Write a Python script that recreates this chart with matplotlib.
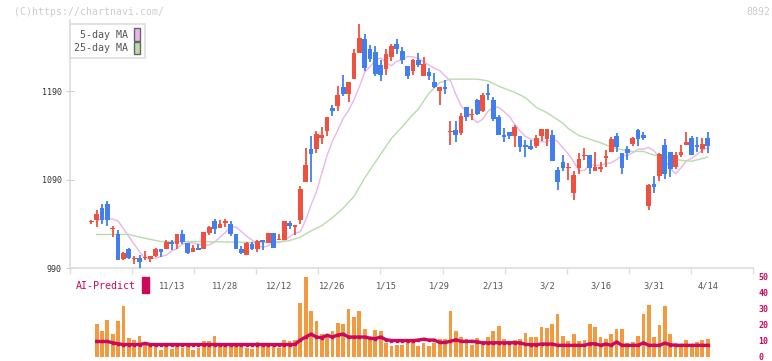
import numpy as np
import pandas as pd
import matplotlib
matplotlib.use("Agg")
import matplotlib.pyplot as plt
from matplotlib.patches import Patch

# price candles (one per trading day, oldest first)
opens = [1042, 1044, 1058, 1063, 1034, 1029, 1000, 1011, 1000, 1001,
         1001, 1000, 1004, 1012, 1012, 1020, 1017, 1028, 1018, 1008,
         1013, 1011, 1030, 1043, 1035, 1041, 1040, 1028, 1012, 1005,
         1017, 1011, 1022, 1018, 1030, 1022, 1022, 1041, 1037, 1044,
         1087, 1125, 1125, 1137, 1145, 1171, 1174, 1195, 1187, 1204,
         1234, 1250, 1238, 1235, 1220, 1215, 1229, 1244, 1236, 1219,
         1213, 1226, 1207, 1212, 1201, 1190, 1195, 1144, 1146, 1143,
         1172, 1163, 1180, 1168, 1188, 1180, 1161, 1141, 1144, 1139,
         1139, 1129, 1128, 1128, 1139, 1136, 1141, 1101, 1110, 1103,
         1075, 1103, 1117, 1118, 1100, 1102, 1115, 1122, 1139, 1120,
         1125, 1131, 1146, 1141, 1060, 1085, 1094, 1129, 1121, 1104,
         1118, 1129, 1137, 1129, 1125, 1137]
highs = [1044, 1056, 1063, 1066, 1038, 1033, 1008, 1013, 1004, 1005,
         1009, 1004, 1013, 1012, 1022, 1022, 1028, 1033, 1018, 1016,
         1017, 1031, 1038, 1045, 1044, 1045, 1043, 1028, 1015, 1020,
         1019, 1022, 1022, 1030, 1030, 1028, 1043, 1043, 1039, 1083,
         1126, 1140, 1145, 1150, 1161, 1175, 1196, 1209, 1201, 1238,
         1267, 1255, 1243, 1242, 1226, 1238, 1244, 1250, 1240, 1219,
         1227, 1234, 1229, 1217, 1211, 1195, 1203, 1157, 1156, 1166,
         1172, 1170, 1182, 1188, 1198, 1184, 1163, 1149, 1144, 1152,
         1139, 1135, 1135, 1141, 1148, 1148, 1146, 1104, 1118, 1109,
         1100, 1120, 1126, 1118, 1121, 1110, 1124, 1138, 1143, 1120,
         1128, 1138, 1147, 1144, 1085, 1094, 1120, 1136, 1121, 1122,
         1129, 1144, 1139, 1138, 1137, 1144]
lows = [1040, 1037, 1040, 1038, 1025, 999, 999, 1000, 995, 989,
        999, 997, 1003, 1003, 1011, 1010, 1012, 1017, 1006, 1008,
        1010, 1011, 1027, 1028, 1035, 1037, 1026, 1011, 1006, 1005,
        1010, 1008, 1010, 1018, 1013, 1022, 1022, 1034, 1027, 1040,
        1087, 1087, 1120, 1131, 1140, 1162, 1168, 1185, 1178, 1204,
        1234, 1213, 1223, 1207, 1202, 1209, 1224, 1233, 1221, 1204,
        1209, 1218, 1207, 1203, 1194, 1175, 1187, 1129, 1133, 1141,
        1156, 1158, 1163, 1167, 1180, 1156, 1141, 1133, 1136, 1127,
        1122, 1116, 1124, 1126, 1134, 1128, 1111, 1078, 1100, 1090,
        1067, 1096, 1112, 1096, 1100, 1099, 1105, 1121, 1121, 1097,
        1112, 1128, 1128, 1135, 1056, 1075, 1089, 1091, 1093, 1102,
        1116, 1129, 1118, 1121, 1120, 1120]
closes = [1042.5, 1051, 1044, 1044, 1034.5, 999, 1007, 1001, 1001, 997,
          1002, 1004, 1012, 1008, 1020, 1017, 1028, 1020, 1007, 1013,
          1010, 1031, 1036, 1034, 1040, 1043, 1029, 1011, 1007, 1018,
          1011, 1021, 1019, 1030, 1013, 1023, 1043, 1038, 1039, 1079,
          1107, 1119, 1142, 1141, 1161, 1168, 1186, 1187, 1201, 1234,
          1251, 1217, 1227, 1210, 1209, 1233, 1242, 1238, 1226, 1207,
          1226, 1220, 1221, 1207, 1195, 1195, 1193, 1145, 1141, 1162,
          1161, 1165, 1164, 1186, 1186, 1159, 1141, 1138, 1139, 1150,
          1127, 1127, 1125, 1137, 1147, 1147, 1111, 1088, 1103, 1104,
          1095, 1113, 1118, 1103, 1104, 1104, 1117, 1136, 1127, 1103,
          1120, 1137, 1136, 1137, 1084, 1082, 1119, 1096, 1102, 1118,
          1122, 1133, 1118, 1127, 1131, 1128]

# 25-day moving average (candle index, value)
ma25_idx = [1, 7, 9, 13, 20, 30, 35, 37, 39, 41, 43, 45, 47, 49, 51, 52,
            54, 56, 58, 60, 61, 63, 65, 67, 72, 74, 76, 79, 81, 83, 85,
            88, 89, 91, 93, 95, 97, 99, 101, 103, 105, 108, 110, 112, 114, 115]
ma25_val = [1028, 1028, 1025, 1020, 1020, 1019, 1019.5, 1021, 1025, 1032,
            1038, 1047, 1058, 1071, 1092, 1101, 1119, 1137, 1150, 1164,
            1170, 1188, 1200, 1204, 1204, 1202, 1196, 1189, 1183, 1172,
            1166, 1154, 1148, 1140, 1136, 1132, 1127, 1124, 1122, 1122,
            1118, 1115, 1112, 1111, 1114, 1116]

# lower panel: volume bars and AI-Predict line (from 2nd candle on)
volume = [20.6, 16.2, 23.1, 14.3, 22.5, 31.3, 11.8, 10.5, 13, 7.4,
          8.6, 6.5, 4.2, 6.5, 4.4, 7.4, 5.5, 7.4, 4.2, 5.5,
          9.9, 9.9, 13, 7.4, 6.5, 6.5, 7.4, 6.5, 5.5, 5,
          9.2, 7.4, 8.6, 7.4, 5.5, 10.5, 9.4, 10.5, 33.3, 49.5,
          28.7, 22, 14.3, 13.3, 15.8, 21.2, 20.6, 30, 24.9, 28.7,
          17.4, 11.2, 16.6, 15.8, 8.6, 6.7, 7, 7, 9.3, 9.3,
          6.7, 8.6, 6.7, 8.6, 10.8, 11, 28.7, 15.8, 12.4, 11,
          7.4, 11.6, 9.3, 12.4, 16.2, 19.3, 11, 8.6, 10.5, 11.2,
          14.9, 12.4, 12.4, 18.7, 17.9, 20.6, 26.7, 13, 9.9, 14.3,
          9.9, 10.5, 20.6, 18.7, 12.4, 11.2, 13.8, 16.9, 16.9, 8.6,
          9.3, 13, 26.7, 32.5, 12.4, 19.9, 31.3, 14.3, 8.6, 7.4,
          10.5, 7.4, 9.3, 10.5, 11.2]
ai_predict = [9.4, 9.4, 9.4, 8.6, 8.0, 7.5, 7.5, 7.5, 7.5, 8.2,
              7.5, 7.5, 7.5, 7.5, 7.5, 7.5, 7.5, 7.5, 7.5, 7.5,
              7.5, 7.5, 7.5, 7.5, 7.5, 7.5, 7.5, 7.5, 7.5, 7.5,
              7.5, 7.5, 7.5, 7.5, 7.5, 7.5, 7.5, 7.6, 10.3, 12.2,
              14, 12.2, 11.8, 13.3, 12.2, 13.5, 14, 12.2, 12.2, 12.2,
              12.2, 11.5, 11.2, 12.2, 10.5, 10, 10, 10, 10, 10,
              10.3, 10.8, 10.3, 10.3, 8.8, 8.8, 9.5, 10.5, 9.5, 9.5,
              9.5, 9.2, 8.6, 8.6, 8.6, 8.6, 8.6, 8.6, 8.6, 8.6,
              7.6, 7.4, 7.4, 7.8, 7.8, 7.8, 7.0, 7.0, 7.0, 7.0,
              7.0, 7.0, 8.0, 8.0, 7.0, 7.8, 7.0, 9.1, 7.0, 7.0,
              7.0, 7.0, 8.6, 7.0, 7.0, 7.0, 8.4, 7.4, 7.0, 7.0,
              7.0, 7.0, 7.0, 7.0, 7.0]

date_labels = ['11/13', '11/28', '12/12', '12/26', '1/15', '1/29',
               '2/13', '3/2', '3/16', '3/31', '4/14']
date_idx = [15, 25, 35, 45, 55, 65, 75, 85, 95, 105, 115]
price_ticks = [990, 1090, 1190]
ai_ticks = [0, 10, 20, 30, 40, 50]

RED = '#f0513f'
BLUE = '#417ff0'
ORANGE = '#f39a40'
CRIMSON = '#cc0a5c'
MONO = 'DejaVu Sans Mono'

df = pd.DataFrame({'open': opens, 'high': highs, 'low': lows, 'close': closes})
x = np.arange(len(df))
# the site draws the 5-day line one slot to the right of the candles
ma5 = df['close'].rolling(5, min_periods=1).mean().shift(1)

fig = plt.figure(figsize=(7.72, 3.61), dpi=100)
# lower panel first so the price axes (and its date labels) sit on top
ax2 = fig.add_axes([70 / 772, 0, 683 / 772, 91 / 361])
ax = fig.add_axes([70 / 772, 1 - 268 / 361, 683 / 772, 248 / 361])
ax.patch.set_alpha(0)
ax2.patch.set_alpha(0)

xlim = (-3.97, 123.45)

# candles
up = df['close'] >= df['open']
colors = np.where(up, RED, BLUE)
ax.vlines(x, df['low'], df['high'], colors=colors, linewidth=1.3, zorder=3)
body_lo = np.minimum(df['open'], df['close'])
body_h = np.maximum((df['close'] - df['open']).abs(), 1.3)
ax.bar(x, body_h, bottom=body_lo, width=0.88, color=colors, linewidth=0, zorder=4)

ax.plot(x[1:], ma5[1:], color='#ebb5eb', linewidth=1.0, zorder=2)
ax.plot(ma25_idx, ma25_val, color='#b8dcaa', linewidth=1.0, zorder=2)

ax.set_xlim(xlim)
ax.set_ylim(990, 1271)
for s in ['top', 'right']:
    ax.spines[s].set_visible(False)
for s in ['left', 'bottom']:
    ax.spines[s].set_color('#dddddd')
    ax.spines[s].set_linewidth(1.2)

ax.set_yticks(price_ticks)
ax.set_yticklabels([str(v) for v in price_ticks], fontfamily=MONO, fontsize=6, color='#333333')
ax.tick_params(axis='y', direction='inout', length=6, width=0.8, color='#cccccc', pad=3)

ax.set_xticks(np.linspace(xlim[0], xlim[1], 12))
ax.set_xticklabels([])
ax.tick_params(axis='x', which='major', direction='out', length=4, width=1, color='#dddddd')
ax.set_xticks(date_idx, minor=True)
ax.set_xticklabels(date_labels, minor=True, fontfamily=MONO, fontsize=6.3, color='#555555')
ax.tick_params(axis='x', which='minor', length=0, pad=9.5)

legend = ax.legend(handles=[Patch(facecolor='#ebb5eb', edgecolor='#666666', label='5-day MA'),
                            Patch(facecolor='#b8dcaa', edgecolor='#666666', label='25-day MA')],
                   loc='upper left', bbox_to_anchor=(70 / 772, 1 - 24 / 361),
                   bbox_transform=fig.transFigure, markerfirst=False,
                   handlelength=0.65, handleheight=1.5, handletextpad=0.5,
                   labelspacing=0.1, borderpad=0.45, borderaxespad=0,
                   fancybox=False, framealpha=1, edgecolor='#dddddd',
                   prop={'family': MONO, 'size': 7.2})
for t in legend.get_texts():
    t.set_color('#555555')
legend.get_frame().set_linewidth(1.2)

# lower panel
xv = x[1:]
ax2.bar(xv, volume, width=0.7, color=ORANGE, linewidth=0, zorder=2)
ax2.plot(xv, ai_predict, color=CRIMSON, linewidth=2.4, marker='s', markersize=2, zorder=3)
ax2.set_xlim(xlim)
ax2.set_ylim(-2.8, 54.1)
for s in ax2.spines.values():
    s.set_visible(False)
ax2.set_xticks([])
ax2.yaxis.tick_right()
ax2.set_yticks(ai_ticks)
ax2.set_yticklabels([str(v) for v in ai_ticks], fontfamily=MONO, fontsize=6.0,
                    color=CRIMSON, fontweight='bold')
ax2.tick_params(axis='y', length=0, pad=4)

fig.text(76 / 772, 1 - 286 / 361, 'AI-Predict', color=CRIMSON, fontfamily=MONO,
         fontsize=7.2, va='center', ha='left')
fig.patches.append(plt.Rectangle((142 / 772, 1 - 293 / 361), 6.5 / 772, 16 / 361,
                                 transform=fig.transFigure, color=CRIMSON))

fig.text(14 / 772, 1 - 12 / 361, '(C)https://chartnavi.com/', color='#cccccc',
         fontfamily=MONO, fontsize=7.1, va='center', ha='left')
fig.text(770 / 772, 1 - 12 / 361, '8892', color='#cccccc',
         fontfamily=MONO, fontsize=7.1, va='center', ha='right')

fig.savefig('out.png', dpi=100)
